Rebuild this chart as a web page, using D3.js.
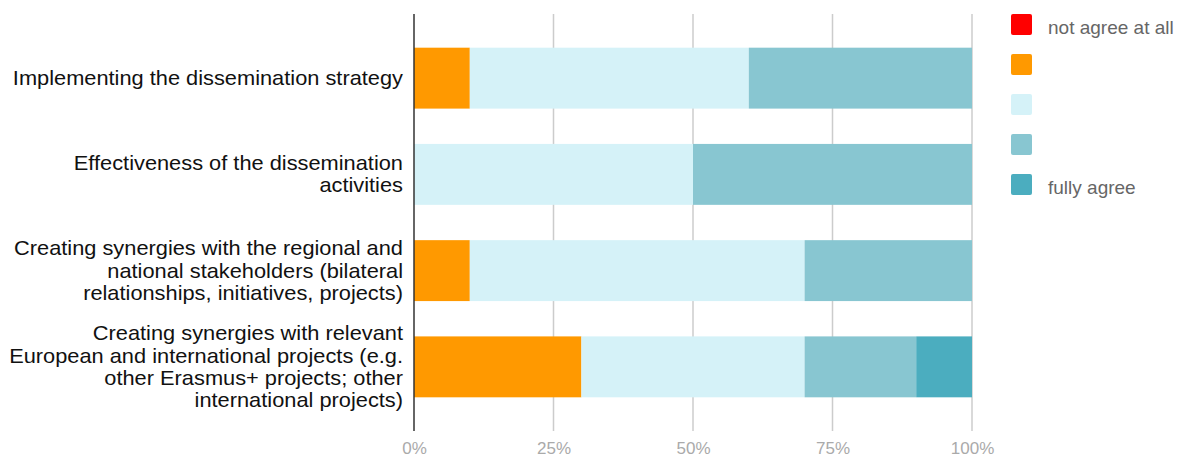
<!DOCTYPE html>
<html><head><meta charset="utf-8">
<script src="https://cdn.jsdelivr.net/npm/d3@7"></script>
<style>body{margin:0;background:#fff;}svg{display:block;font-family:"Liberation Sans",Arial,sans-serif;}</style>
</head><body><svg id="c" width="1181" height="458"></svg>
<script>
const categories = [
  ["Implementing the dissemination strategy"],
  ["Effectiveness of the dissemination", "activities"],
  ["Creating synergies with the regional and", "national stakeholders (bilateral", "relationships, initiatives, projects)"],
  ["Creating synergies with relevant", "European and international projects (e.g.", "other Erasmus+ projects; other", "international projects)"]
];
const seriesNames = ["not agree at all", "", "", "", "fully agree"];
const seriesColors = ["#ff0000", "#ff9900", "#d5f2f8", "#88c6d1", "#4badbf"];
const notAgree = [0, 0, 0, 0];
const partlyDisagree = [10, 0, 10, 30];
const neutral = [50, 50, 60, 40];
const partlyAgree = [40, 50, 30, 20];
const fullyAgree = [0, 0, 0, 10];
const tickValues = [0, 25, 50, 75, 100];

const series = [notAgree, partlyDisagree, neutral, partlyAgree, fullyAgree];
const svg = d3.select("#c");
const pL = 414, pR = 972, pT = 14, pB = 431;
const x = d3.scaleLinear().domain([0, 100]).range([pL, pR]);
const y = d3.scaleBand().domain(d3.range(categories.length)).range([pT, pB]).paddingInner(0.367).paddingOuter(0.35);

// gridlines
svg.append("g").selectAll("line").data(tickValues.slice(1)).join("line")
  .attr("x1", d => x(d)).attr("x2", d => x(d)).attr("y1", pT).attr("y2", pB)
  .attr("stroke", "#cccccc").attr("stroke-width", 1.5);

// bars
const rows = categories.map((c, i) => {
  let acc = 0;
  return series.map((s, k) => { const r = {i, k, x0: acc, x1: acc + s[i]}; acc += s[i]; return r; }).filter(r => r.x1 > r.x0);
}).flat();
svg.append("g").selectAll("rect").data(rows).join("rect")
  .attr("x", d => x(d.x0)).attr("width", d => x(d.x1) - x(d.x0))
  .attr("y", d => y(d.i)).attr("height", y.bandwidth())
  .attr("fill", d => seriesColors[d.k]);

// axis line
svg.append("line").attr("x1", pL).attr("x2", pL).attr("y1", pT).attr("y2", pB)
  .attr("stroke", "#333").attr("stroke-width", 1.5);

// tick labels
const xAxis = svg.append("g").attr("transform", `translate(0,${pB})`)
  .call(d3.axisBottom(x).tickValues(tickValues).tickFormat(d => d + "%").tickSize(0).tickPadding(12));
xAxis.select(".domain").remove();
xAxis.selectAll("text").attr("fill", "#aaaaaa").attr("font-size", 17).attr("y", 17).attr("dy", "0.35em")
  .attr("font-family", '"Liberation Sans",Arial,sans-serif');

// category labels (one text element per line, stretched horizontally)
const lh = 22.3;
categories.forEach((lines, i) => {
  const cy = y(i) + y.bandwidth() / 2;
  lines.forEach((ln, j) => {
    const ly = cy + (j - (lines.length - 1) / 2) * lh;
    svg.append("text").attr("transform", `translate(403,${ly}) scale(1.13,1.02)`)
      .attr("text-anchor", "end").attr("dy", "0.35em").attr("font-size", 19.3).attr("fill", "#111").text(ln);
  });
});

// legend
const lg = svg.append("g");
seriesNames.forEach((n, k) => {
  const ly = 14 + k * 40;
  lg.append("rect").attr("x", 1011).attr("y", ly).attr("width", 21).attr("height", 21).attr("rx", 2).attr("fill", seriesColors[k]);
  if (n) lg.append("text").attr("x", 1048).attr("y", ly + 20).attr("font-size", 19).attr("fill", "#666").text(n);
});
</script></body></html>
